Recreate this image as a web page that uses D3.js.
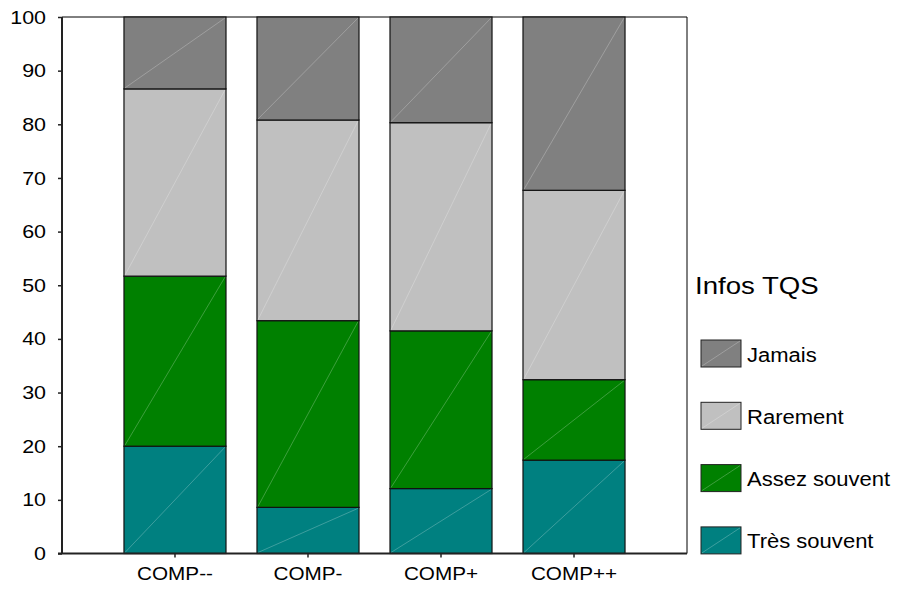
<!DOCTYPE html>
<html><head><meta charset="utf-8">
<script src="https://cdn.jsdelivr.net/npm/d3@7"></script>
<style>body{margin:0;background:#fff}svg{display:block}text{font-family:Arial,"Liberation Sans",sans-serif;fill:#000}</style>
</head><body><svg id="c" width="898" height="592"></svg>
<script>
const categories = ["COMP--", "COMP-", "COMP+", "COMP++"];
const seriesNames = ["Très souvent", "Assez souvent", "Rarement", "Jamais"];
const tresSouvent = [20.0, 8.6, 12.1, 17.4];
const assezSouvent = [31.7, 34.8, 29.4, 15.0];
const rarement = [34.9, 37.4, 38.8, 35.3];
const jamais = [13.4, 19.2, 19.7, 32.3];
const yTicks = [0, 10, 20, 30, 40, 50, 60, 70, 80, 90, 100];
const colors = ["#008080", "#008000", "#c0c0c0", "#808080"];
const legendTitle = "Infos TQS";

const seriesValues = [tresSouvent, assezSouvent, rarement, jamais];
const rows = categories.map((c, i) => {
  const r = {cat: c};
  seriesNames.forEach((s, k) => r[s] = seriesValues[k][i]);
  return r;
});
const stack = d3.stack().keys(seriesNames)(rows);

const SX = 1.13;
const svg = d3.select("#c");
const L = 62, R = 687, T = 17, B = 553.5;
const x = d3.scaleBand().domain(categories).range([L, R]).paddingInner(0.233).paddingOuter(0.466);
const y = d3.scaleLinear().domain([0, 100]).range([B, T]);

// frame top/right
svg.append("path").attr("d", `M${L},${T}H${R}V${B}`).attr("fill", "none").attr("stroke", "#000").attr("stroke-width", 1);

// bars
const g = svg.append("g");
stack.forEach((layer, k) => {
  layer.forEach((d, i) => {
    const x0 = x(categories[i]), w = x.bandwidth();
    const y0 = y(d[0]), y1 = y(d[1]);
    g.append("rect").attr("x", x0).attr("y", y1).attr("width", w).attr("height", y0 - y1)
      .attr("fill", colors[k]).attr("stroke", "#111").attr("stroke-width", 1.2);
    g.append("line").attr("x1", x0 + 1).attr("y1", y0 - 1).attr("x2", x0 + w - 1).attr("y2", y1 + 1)
      .attr("stroke", "#ffffff").attr("stroke-opacity", 0.3).attr("stroke-width", 0.8);
  });
});

// y axis
const ya = svg.append("g").attr("transform", `translate(${L},0)`)
  .call(d3.axisLeft(y).tickValues(yTicks).tickSize(4).tickPadding(12).tickFormat(d3.format("d")));
ya.select(".domain").attr("stroke", "#222").attr("stroke-width", 2).attr("d", `M0,${B}V${T}`);
ya.selectAll(".tick line").attr("stroke", "#222").attr("stroke-width", 1.5);
ya.selectAll("text").attr("font-size", 19).attr("font-family", "Arial, 'Liberation Sans', sans-serif").attr("fill", "#000")
  .attr("transform", `scale(${SX},1)`).attr("x", -16 / SX);

// x axis
const xa = svg.append("g").attr("transform", `translate(0,${B})`)
  .call(d3.axisBottom(x).tickSize(4).tickPadding(9));
xa.select(".domain").attr("stroke", "#222").attr("stroke-width", 2).attr("d", `M${L - 4},0H${R}`);
xa.selectAll(".tick line").attr("stroke", "#222").attr("stroke-width", 1.5);
xa.selectAll("text").attr("font-size", 19).attr("font-family", "Arial, 'Liberation Sans', sans-serif").attr("fill", "#000")
  .attr("dy", "0.71em").attr("transform", `scale(1.09,1)`);

// legend
svg.append("text").attr("transform", `translate(695,293.5) scale(1.2,1)`).attr("font-size", 23).text(legendTitle);
const legOrder = [3, 2, 1, 0];
legOrder.forEach((k, j) => {
  const ly = 340 + j * 62.3;
  svg.append("rect").attr("x", 701).attr("y", ly).attr("width", 40).attr("height", 27)
    .attr("fill", colors[k]).attr("stroke", "#222").attr("stroke-width", 1);
  svg.append("line").attr("x1", 702).attr("y1", ly + 26).attr("x2", 740).attr("y2", ly + 1)
    .attr("stroke", "#fff").attr("stroke-opacity", 0.3).attr("stroke-width", 0.8);
  svg.append("text").attr("transform", `translate(747,${ly + 21.5}) scale(${SX},1)`).attr("font-size", 19.5).text(seriesNames[k]);
});
</script></body></html>
